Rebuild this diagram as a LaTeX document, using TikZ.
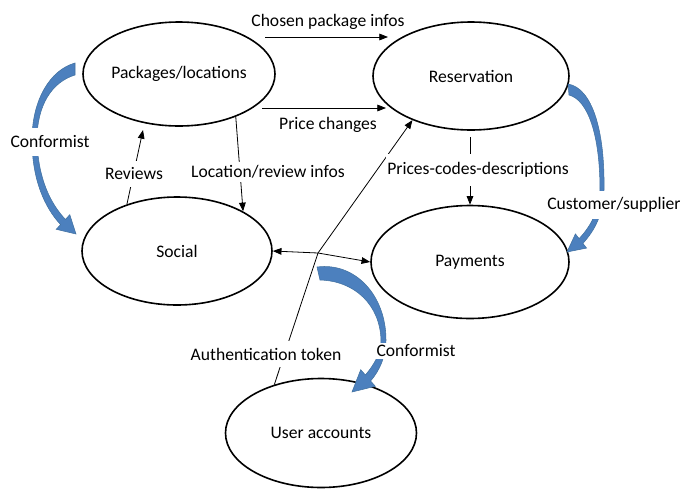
\documentclass[tikz,border=0pt]{standalone}
\usepackage{fontspec}
\setmainfont{Carlito}
\usetikzlibrary{shapes.geometric,arrows.meta}
\definecolor{arrowblue}{RGB}{76,128,190}
\definecolor{arrowedge}{RGB}{65,113,160}

\begin{document}
\begin{tikzpicture}
[x=0.75pt,y=-0.75pt,inner sep=0.5mm,>={Triangle[length=6.5pt,width=5pt]},
every node/.style={font=\fontsize{13.2}{15}\selectfont},
comp/.style={ellipse,draw=black,line width=1.2pt,inner sep=0pt},
flow/.style={line width=0.6pt},
lbl/.style={fill=white,inner xsep=1pt,inner ysep=5pt}, 
bigarrow/.style={fill=arrowblue,draw=arrowedge,line width=0.4pt}]
\useasboundingbox (0,0) rectangle (687,497);
\node (pack) at (179,74) [comp,minimum width=144pt,minimum height=78pt] {Packages/locations};
\node (resv) at (471,76) [comp,minimum width=147pt,minimum height=81pt] {Reservation};
\node (soc) at (177,251) [comp,minimum width=142.5pt,minimum height=81pt] {Social};
\node (pay) at (470,262) [comp,minimum width=148.5pt,minimum height=84.75pt] {Payments};
\node (user) at (321,433) [comp,minimum width=143.25pt,minimum height=81.75pt] {User accounts};
\coordinate (chosenA) at (265,37);
\coordinate (chosenB) at (388,37);
\coordinate (priceA) at (262,108);
\coordinate (priceB) at (386,108);
\coordinate (revtip) at (143,130);
\coordinate (pcdA) at (470,137);
\coordinate (jn) at (318,253);
\draw[flow,->] (chosenA) -- (chosenB);
\draw[flow,->] (priceA) -- (priceB);
\draw[flow,->] (pack.-37) -- (soc.31);
\draw[flow,->] (soc.137) -- (revtip);
\draw[flow,->] (pcdA) -- (pay.north);
\draw[flow,<->] (soc.east) -- (jn) -- (pay.west);
\draw[flow,->] (user.134) -- (jn) -- (resv.217);
\draw[bigarrow] (75,63) .. controls (50,70) and (32,100) .. (32,140) .. controls (32,180) and (45,208) .. (60.6,224.6) -- (56.2,229.3) -- (76,234) -- (69.8,214.7) -- (65.4,219.4) .. controls (50,203) and (38,178) .. (37,140) .. controls (37,105) and (52,82) .. (75,75) -- cycle;
\draw[bigarrow] (568,84) .. controls (592,88) and (605,130) .. (604,190) .. controls (603,215) and (595,230) .. (582.9,243.4) -- (586.6,248.1) -- (567,252) -- (575.4,233.9) -- (579.1,238.6) .. controls (590,227) and (599,212) .. (600,190) .. controls (600,135) and (588,100) .. (569,95) -- cycle;
\draw[bigarrow] (317,267) .. controls (355,262) and (386,295) .. (386,340) .. controls (386,356) and (380,370) .. (370.6,381) -- (375.3,386.3) -- (352,392) -- (360.7,369.7) -- (365.4,375) .. controls (373,366) and (381,354) .. (381,340) .. controls (380,305) and (355,281) .. (320,280) -- cycle;
\node (chosenlbl) at (328,22) {Chosen package infos};
\node (pricelbl) at (328,125) {Price changes};
\node (locrevlbl) at (268,172) [lbl,inner ysep=3pt] {Location/review infos};
\node (revlbl) at (134,174) [lbl] {Reviews};
\node (pcdlbl) at (478,170) [lbl,inner ysep=6pt] {Prices-codes-descriptions};
\node (authlbl) at (266,354) [lbl] {Authentication token};
\node (conf1) at (50,142) [lbl,inner ysep=6pt] {Conformist};
\node (custlbl) at (614,205) [lbl] {Customer/supplier};
\node (conf2) at (416,351) [lbl,inner ysep=1.6pt] {Conformist};
\end{tikzpicture}
\end{document}
